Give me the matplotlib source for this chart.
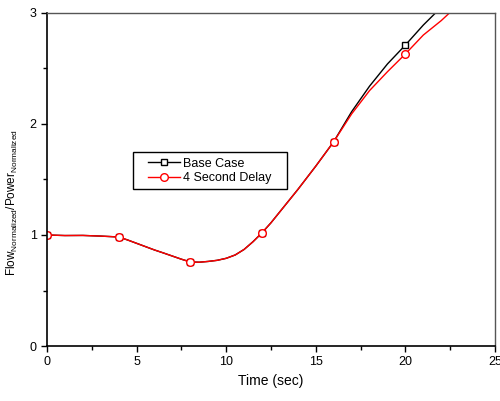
import matplotlib
matplotlib.use("Agg")
import matplotlib.pyplot as plt
from matplotlib.patches import Rectangle
from matplotlib.ticker import MultipleLocator

plt.rcParams['font.family'] = ['Liberation Sans', 'DejaVu Sans']
plt.rcParams['mathtext.fontset'] = 'custom'
plt.rcParams['mathtext.rm'] = 'Liberation Sans'
plt.rcParams['mathtext.it'] = 'Liberation Sans'

time_s = [0, 1, 2, 3, 4, 4.5, 5, 5.5, 6, 6.5, 7, 7.5, 8, 8.5, 9, 9.5,
          10, 10.5, 11, 11.5, 12, 12.5, 13, 14, 15, 16,
          17, 18, 19, 20, 21, 22, 23]
base_case = [1.00, 0.995, 0.996, 0.99, 0.982, 0.955, 0.925, 0.895, 0.865,
             0.838, 0.81, 0.782, 0.757, 0.755, 0.762, 0.772,
             0.79, 0.82, 0.87, 0.94, 1.02, 1.11, 1.21, 1.41, 1.62, 1.84,
             2.11, 2.34, 2.54, 2.71, 2.89, 3.05, 3.2]
delay_4s = [1.00, 0.995, 0.996, 0.99, 0.982, 0.955, 0.925, 0.895, 0.865,
            0.838, 0.81, 0.782, 0.757, 0.755, 0.762, 0.772,
            0.79, 0.82, 0.87, 0.94, 1.02, 1.11, 1.21, 1.41, 1.62, 1.84,
            2.09, 2.30, 2.47, 2.63, 2.80, 2.93, 3.08]

marker_idx = [i for i, t in enumerate(time_s) if t % 4 == 0]

fig = plt.figure(figsize=(5.0, 4.01), dpi=100)
ax = fig.add_axes([0.094, 0.137, 0.896, 0.831])

ax.plot(time_s, base_case, color='black', lw=1.0, marker='s', ms=5,
        mfc='white', mec='black', mew=1.0, markevery=marker_idx,
        label='Base Case')
ax.plot(time_s, delay_4s, color='red', lw=1.0, marker='o', ms=5.5,
        mfc='white', mec='red', mew=1.0, markevery=marker_idx,
        label='4 Second Delay')

ax.set_xlim(0, 25)
ax.set_ylim(0, 3)
ax.xaxis.set_major_locator(MultipleLocator(5))
ax.xaxis.set_minor_locator(MultipleLocator(2.5))
ax.yaxis.set_major_locator(MultipleLocator(1))
ax.yaxis.set_minor_locator(MultipleLocator(0.5))
ax.tick_params(which='both', direction='out', labelsize=9, width=1)
ax.tick_params(which='major', length=4)
ax.tick_params(which='minor', length=3)

for side in ['left', 'bottom']:
    ax.spines[side].set_color('black')
    ax.spines[side].set_linewidth(1.2)
for side in ['top', 'right']:
    ax.spines[side].set_color('#555555')
    ax.spines[side].set_linewidth(1.0)

ax.set_xlabel('Time (sec)', fontsize=10, labelpad=4)
ax.set_ylabel(r'Flow$_{\mathregular{Normalized}}$/Power$_{\mathregular{Normalized}}$',
              fontsize=8.5, labelpad=4)
ax.yaxis.set_label_coords(-0.06, 0.43)

# legend entries without frame, boxed by a plain rectangle
leg = ax.legend(loc='upper left', bbox_to_anchor=(0.2254, 0.565), fontsize=9,
                frameon=False, handlelength=2.55, borderpad=0,
                labelspacing=0.2, handletextpad=0.25, borderaxespad=0)
ax.add_patch(Rectangle((0.192, 0.471), 0.344, 0.112, transform=ax.transAxes,
                       facecolor='white', edgecolor='black', lw=1.0,
                       zorder=4))
leg.set_zorder(5)

fig.savefig('out.png', dpi=100)
